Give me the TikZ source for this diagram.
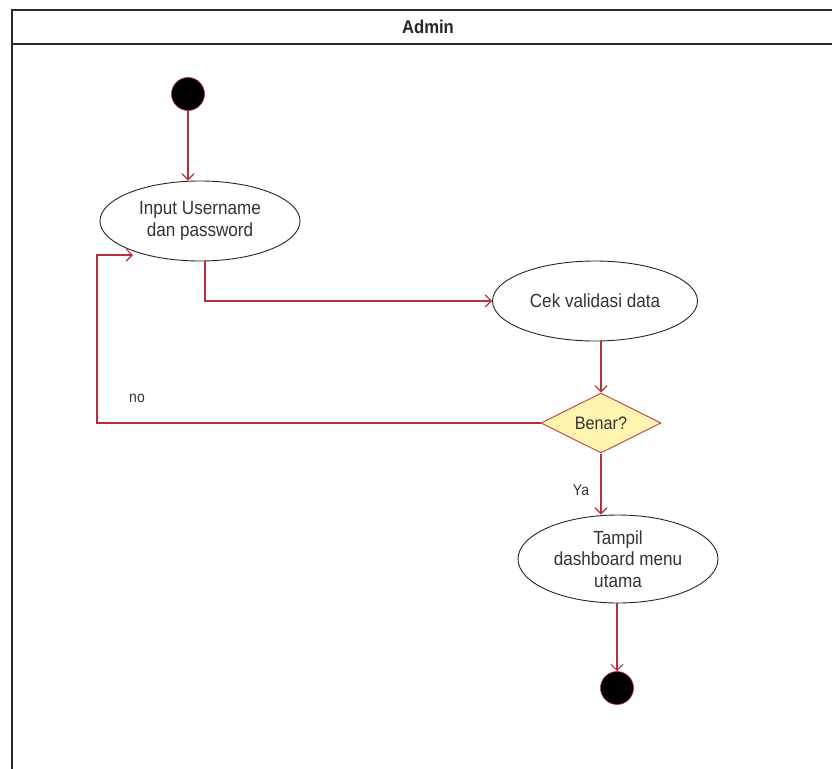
\documentclass[tikz,border=0pt]{standalone}
\usepackage{fontspec}
\setmainfont{Liberation Sans}[FakeStretch=0.9]
\usetikzlibrary{arrows.meta,shapes.geometric,calc}
\definecolor{flow}{HTML}{B5303A}
\definecolor{dfill}{HTML}{FFF4B0}
\definecolor{dline}{HTML}{C0504D}
\definecolor{frame}{HTML}{2A2A2A}
\begin{document}
\begin{tikzpicture}[x=1pt,y=-1pt,
  act/.style={ellipse,draw=black!85,line width=0.9pt,fill=white,inner sep=0pt,
    minimum width=#1,align=center,font=\fontsize{19}{21.5}\selectfont,text=black!80},
  act/.default=200pt,
  startdot/.style={circle,fill=black,draw=flow,line width=0.6pt,minimum size=33pt,inner sep=0pt},
  decide/.style={diamond,draw=dline,fill=dfill,line width=1pt,minimum width=120pt,minimum height=60pt,
    inner sep=0pt,aspect=2,font=\fontsize{18}{20}\selectfont,text=black!80},
  flowline/.style={draw=flow,line width=1.2pt,-{Straight Barb[length=6pt,width=12pt]}},
  lbl/.style={font=\fontsize{15.5}{18}\selectfont,text=black!80}
]
\useasboundingbox (0,0) rectangle (832,768);
% swimlane frame
\draw[frame,line width=2pt] (12,770) -- (12,10) -- (834,10);
\draw[frame,line width=1.6pt] (12,44) -- (834,44);
\node[font=\bfseries\fontsize{18.5}{21}\selectfont,text=black!85] (lane) at (428,27) {Admin};

% nodes
\node[startdot] (start) at (188,94) {};
\node[act, minimum height=80pt] (inp) at (200,221) {Input Username\\dan password};
\node[act=205pt, minimum height=80pt] (cek) at (595,301) {Cek validasi data};
\node[decide] (d) at (601,423) {Benar?};
\node[act=200pt, minimum height=88pt] (tam) at (618,559) {Tampil\\dashboard menu\\utama};
\node[startdot] (stop) at (617,688) {};

\coordinate (lp) at (97,255);
\coordinate (lpin) at (133,255);

% connectors
\draw[flowline] (start.south) -- (start.south |- inp.north);
\draw[flowline] (inp.south) ++(5,0) coordinate (inb) |- (cek.west);
\draw[flowline] (cek.south -| d.north) -- (d.north);
\draw[flowline] (d.west) -| (lp) -- (lpin);
\draw[flowline] (d.south) -- (d.south |- tam.north);
\draw[flowline] (tam.south -| stop.north) -- (stop.north);

\node[lbl] (no) at (137,398) {no};
\node[lbl] (ya) at (581,490) {Ya};
\end{tikzpicture}
\end{document}
